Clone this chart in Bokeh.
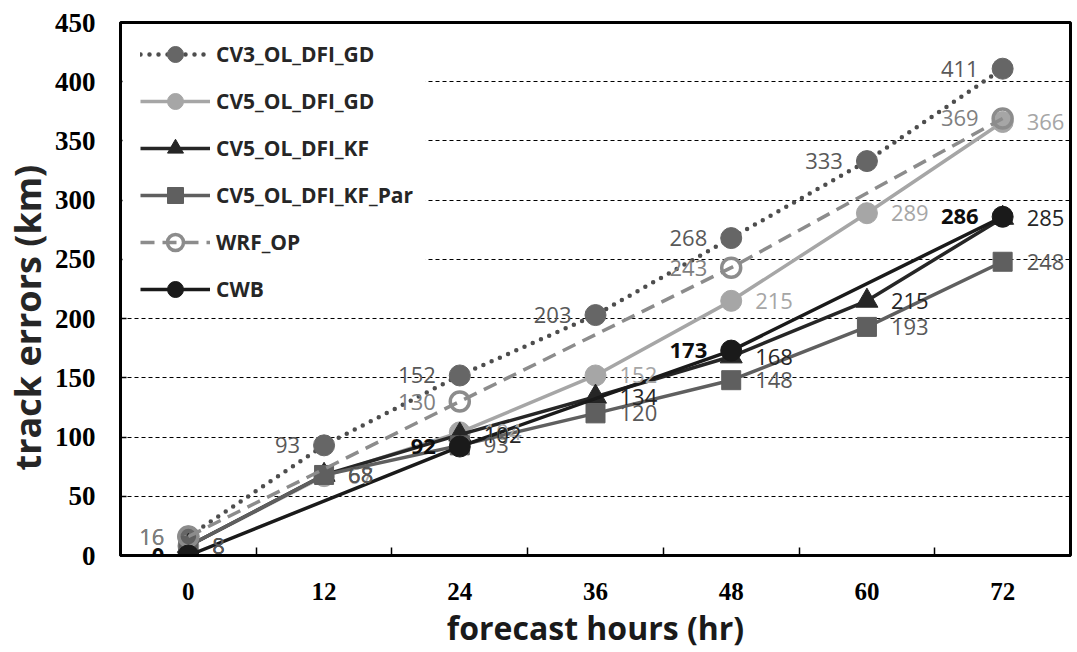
from bokeh.plotting import figure
from bokeh.models import (ColumnDataSource, FixedTicker, Legend, LegendItem, Range1d,
                          BoxAnnotation, Title)
from bokeh.core.properties import value
from bokeh.embed import file_html
from bokeh.resources import INLINE

# ---- data ----
hours = [0, 12, 24, 36, 48, 60, 72]
hours_24 = [0, 24, 48, 72]
cv3_ol_dfi_gd = [16, 93, 152, 203, 268, 333, 411]
cv5_ol_dfi_gd = [8, 67, 104, 152, 215, 289, 366]
cv5_ol_dfi_kf = [8, 68, 102, 134, 168, 215, 285]
cv5_ol_dfi_kf_par = [8, 68, 93, 120, 148, 193, 248]
wrf_op = [16, 130, 243, 369]
cwb = [0, 92, 173, 286]
y_ticks = [0, 50, 100, 150, 200, 250, 300, 350, 400, 450]
grid_ticks = [50, 100, 150, 200, 250, 300, 350, 400]
minor_x = [6, 18, 30, 42, 54, 66]
x_title = "forecast hours (hr)"
y_title = "track errors (km)"

p = figure(width=1072, height=652, x_range=Range1d(-6, 78), y_range=Range1d(0, 450),
           output_backend="svg", toolbar_location=None,
           min_border_left=120, min_border_top=22, min_border_right=2, min_border_bottom=97)
p.background_fill_color = "white"
p.border_fill_color = "white"
p.outline_line_color = "black"
p.outline_line_width = 3

# axes
p.xaxis.ticker = FixedTicker(ticks=hours, minor_ticks=minor_x)
p.xaxis.major_tick_line_color = None
p.xaxis.major_tick_in = 0
p.xaxis.major_tick_out = 0
p.xaxis.minor_tick_in = 8
p.xaxis.minor_tick_out = 0
p.xaxis.minor_tick_line_color = "black"
p.xaxis.minor_tick_line_width = 1.5
p.xaxis.axis_line_width = 3
p.xaxis.major_label_text_font = "Liberation Serif"
p.xaxis.major_label_text_font_style = "bold"
p.xaxis.major_label_text_font_size = "25px"
p.xaxis.major_label_text_color = "black"
p.xaxis.major_label_standoff = 27
p.xaxis.axis_label = x_title
p.xaxis.axis_label_text_font = "Open Sans"
p.xaxis.axis_label_text_font_style = "bold"
p.xaxis.axis_label_text_font_size = "32px"
p.xaxis.axis_label_text_color = "#1a1a1a"
p.xaxis.axis_label_standoff = 3

p.yaxis.ticker = FixedTicker(ticks=y_ticks)
p.yaxis.major_tick_in = 6
p.yaxis.major_tick_out = 0
p.yaxis.major_tick_line_width = 1.5
p.yaxis.minor_tick_line_color = None
p.yaxis.axis_line_width = 3
p.yaxis.major_label_text_font = "Liberation Serif"
p.yaxis.major_label_text_font_style = "bold"
p.yaxis.major_label_text_font_size = "27px"
p.yaxis.major_label_text_color = "black"
p.yaxis.major_label_standoff = 25

# y-axis title as a side title (allows shifting it along the axis)
p.add_layout(Title(text=y_title, align="left", offset=85, standoff=0,
                   text_font="Open Sans", text_font_style="bold", text_font_size="36px",
                   text_color="#262626"), "left")

p.xgrid.visible = False
p.ygrid.ticker = FixedTicker(ticks=grid_ticks)
p.ygrid.grid_line_color = "black"
p.ygrid.grid_line_dash = "4 3"
p.ygrid.grid_line_width = 1

# white area behind the legend (hides grid lines there)
p.add_layout(BoxAnnotation(left=-5.82, right=21.0, bottom=211, top=448.3,
                           fill_color="white", fill_alpha=1.0, line_color=None))

items = []
labels = []

# CV3 dotted
src = ColumnDataSource(dict(x=hours, y=cv3_ol_dfi_gd, t=[str(v) for v in cv3_ol_dfi_gd]))
lr = p.line("x", "y", source=src, line_color="#4d4d4d", line_width=4.5, line_dash="0 9",
            line_cap="round")
sr = p.scatter("x", "y", source=src, marker="circle", size=21, fill_color="#666666",
               line_color="#666666")
items.append(LegendItem(label="CV3_OL_DFI_GD", renderers=[lr, sr]))
labels.append((src, "#595959", "left", False))


def series(name, xs, ys, color, marker, dash, lw, msize, lab_color, lab_side, lab_bold=False):
    s = ColumnDataSource(dict(x=xs, y=ys, t=[str(v) for v in ys]))
    l = p.line("x", "y", source=s, line_color=color, line_width=lw, line_dash=dash)
    if marker == "circle_open":
        m = p.scatter("x", "y", source=s, marker="circle", size=msize,
                      fill_alpha=0, line_color=color, line_width=3.5)
    else:
        m = p.scatter("x", "y", source=s, marker=marker, size=msize,
                      fill_color=color, line_color=color, line_width=1)
    items.append(LegendItem(label=name, renderers=[l, m]))
    return (s, lab_color, lab_side, lab_bold)


labels.append(series("CV5_OL_DFI_GD", hours, cv5_ol_dfi_gd, "#a6a6a6", "circle", "solid", 3.5, 21,
                     "#a6a6a6", "right"))
labels.append(series("CV5_OL_DFI_KF", hours, cv5_ol_dfi_kf, "#262626", "triangle", "solid", 3.5, 22,
                     "#262626", "right"))
labels.append(series("CV5_OL_DFI_KF_Par", hours, cv5_ol_dfi_kf_par, "#5f5f5f", "square", "solid", 3.5, 19,
                     "#595959", "right"))
labels.append(series("WRF_OP", hours_24, wrf_op, "#8c8c8c", "circle_open", "14 8", 3.5, 19,
                     "#7f7f7f", "left"))
labels.append(series("CWB", hours_24, cwb, "#1a1a1a", "circle", "solid", 3.5, 21,
                     "#0d0d0d", "left", lab_bold=True))

for s, col, side, bold in labels:
    p.text("x", "y", text="t", source=s,
           x_offset=(24 if side == "right" else -24),
           text_align=("left" if side == "right" else "right"),
           text_baseline="middle", text_color=col,
           text_font=value("Open Sans"), text_font_size="22px",
           text_font_style=("bold" if bold else "normal"))

legend = Legend(items=items, location=(20, 246))
legend.margin = 0
legend.padding = 0
legend.spacing = 7
legend.glyph_width = 70
legend.glyph_height = 40
legend.label_height = 40
legend.label_standoff = 6
legend.label_text_font = "Open Sans"
legend.label_text_font_style = "bold"
legend.label_text_font_size = "21px"
legend.label_text_color = "#262626"
legend.border_line_color = None
legend.background_fill_alpha = 0.0
p.add_layout(legend)

open("out.html", "w").write(file_html(p, INLINE))
